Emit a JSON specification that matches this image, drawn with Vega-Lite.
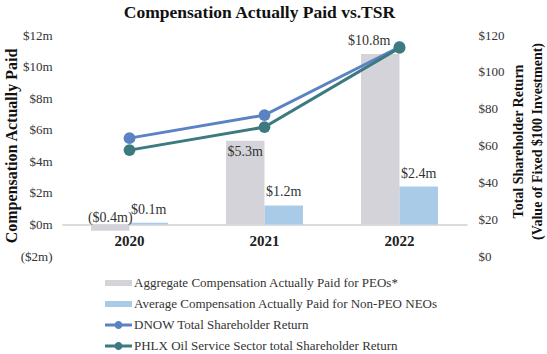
{
  "$schema": "https://vega.github.io/schema/vega-lite/v6.json",
  "width": 405,
  "height": 221,
  "autosize": {"type": "none"},
  "padding": {"left": 62, "top": 35, "right": 80, "bottom": 98},
  "background": "white",
  "config": {
    "view": {"stroke": null},
    "font": "Liberation Serif",
    "axis": {"labelFont": "Liberation Serif", "labelFontSize": 13, "labelColor": "#333333", "labelOverlap": false, "labelBound": false, "grid": false, "ticks": false, "tickSize": 0, "titleFont": "Liberation Serif", "titleFontWeight": "bold", "titleColor": "#111111"}
  },
  "title": {"text": "Compensation Actually Paid vs.TSR", "font": "Liberation Serif", "fontSize": 17.5, "fontWeight": "bold", "color": "#111111", "anchor": "middle", "offset": 8, "dx": -5},
  "datasets": {
    "cap": [
      {"year": "2020", "series": "Aggregate Compensation Actually Paid for PEOs*", "value": -0.4, "label": "($0.4m)"},
      {"year": "2020", "series": "Average Compensation Actually Paid for Non-PEO NEOs", "value": 0.1, "label": "$0.1m"},
      {"year": "2021", "series": "Aggregate Compensation Actually Paid for PEOs*", "value": 5.3, "label": "$5.3m"},
      {"year": "2021", "series": "Average Compensation Actually Paid for Non-PEO NEOs", "value": 1.2, "label": "$1.2m"},
      {"year": "2022", "series": "Aggregate Compensation Actually Paid for PEOs*", "value": 10.8, "label": "$10.8m"},
      {"year": "2022", "series": "Average Compensation Actually Paid for Non-PEO NEOs", "value": 2.4, "label": "$2.4m"}
    ],
    "tsr": [
      {"year": "2020", "series": "DNOW Total Shareholder Return", "tsr": 64},
      {"year": "2021", "series": "DNOW Total Shareholder Return", "tsr": 76.5},
      {"year": "2022", "series": "DNOW Total Shareholder Return", "tsr": 113.5},
      {"year": "2020", "series": "PHLX Oil Service Sector total Shareholder Return", "tsr": 57.5},
      {"year": "2021", "series": "PHLX Oil Service Sector total Shareholder Return", "tsr": 70},
      {"year": "2022", "series": "PHLX Oil Service Sector total Shareholder Return", "tsr": 113}
    ]
  },
  "layer": [
    {
      "data": {"name": "cap"},
      "encoding": {
        "x": {
          "field": "year", "type": "nominal",
          "scale": {"paddingInner": 0.43, "paddingOuter": 0.215},
          "axis": {"title": null, "orient": "bottom", "offset": -31.57, "domainColor": "#dcdcdc", "domainWidth": 2, "labelPadding": 9, "labelFont": "Liberation Serif", "labelFontSize": 15, "labelFontWeight": "bold", "labelColor": "#222222", "labelAngle": 0}
        },
        "xOffset": {
          "field": "series", "type": "nominal",
          "sort": ["Aggregate Compensation Actually Paid for PEOs*", "Average Compensation Actually Paid for Non-PEO NEOs"],
          "scale": {"paddingInner": 0, "paddingOuter": 0}
        },
        "y": {
          "field": "value", "type": "quantitative",
          "scale": {"domain": [-2, 12], "nice": false, "zero": false},
          "axis": {"title": "Compensation Actually Paid", "values": [-2, 0, 2, 4, 6, 8, 10, 12], "labelExpr": "datum.value < 0 ? '($' + abs(datum.value) + 'm)' : '$' + datum.value + 'm'", "labelOverlap": false, "labelFont": "Liberation Serif", "labelFontSize": 13, "domain": false, "labelPadding": 10, "titleFont": "Liberation Serif", "titleFontSize": 16, "titlePadding": 1}
        }
      },
      "layer": [
        {
          "mark": {"type": "bar"},
          "encoding": {
            "color": {
              "field": "series", "type": "nominal",
              "scale": {
                "domain": ["Aggregate Compensation Actually Paid for PEOs*", "Average Compensation Actually Paid for Non-PEO NEOs", "DNOW Total Shareholder Return", "PHLX Oil Service Sector total Shareholder Return"],
                "range": ["#d5d3da", "#a9cbe8", "#5b83c3", "#3d7a80"]
              },
              "legend": {
                "orient": "none", "legendX": 46.5, "legendY": 238, "direction": "vertical", "title": null,
                "symbolSize": 400, "labelFont": "Liberation Serif", "labelFontSize": 13, "labelColor": "#333333",
                "labelOffset": 5.5, "rowPadding": 4, "padding": 0, "labelLimit": 400,
                "encode": {
                  "symbols": {
                    "update": {
                      "shape": [
                        {"test": "datum.value === 'DNOW Total Shareholder Return' || datum.value === 'PHLX Oil Service Sector total Shareholder Return'", "value": "M-1.35,-0.15H1.35V0.15H-1.35Z M0.4,0A0.4,0.4 0 1 1 -0.4,0A0.4,0.4 0 1 1 0.4,0Z"},
                        {"value": "M-1.35,-0.3H1.35V0.3H-1.35Z"}
                      ],
                      "fill": {"scale": "color", "field": "value"},
                      "stroke": {"value": "transparent"},
                      "strokeWidth": {"value": 0},
                      "opacity": {"value": 1}
                    }
                  }
                }
              }
            }
          }
        },
        {
          "transform": [{"filter": "!(datum.series === 'Aggregate Compensation Actually Paid for PEOs*' && (datum.year === '2021' || datum.year === '2022'))"}],
          "mark": {"type": "text", "baseline": "alphabetic", "dy": -9, "fontSize": 14, "font": "Liberation Serif", "color": "#333333"},
          "encoding": {"text": {"field": "label"}}
        },
        {
          "transform": [{"filter": "datum.series === 'Aggregate Compensation Actually Paid for PEOs*' && datum.year === '2022'"}],
          "mark": {"type": "text", "baseline": "alphabetic", "dy": -9, "dx": -11, "fontSize": 14, "font": "Liberation Serif", "color": "#333333"},
          "encoding": {"text": {"field": "label"}}
        },
        {
          "transform": [{"filter": "datum.series === 'Aggregate Compensation Actually Paid for PEOs*' && datum.year === '2021'"}],
          "mark": {"type": "text", "baseline": "top", "dy": 4, "fontSize": 14, "font": "Liberation Serif", "color": "#333333"},
          "encoding": {"text": {"field": "label"}}
        }
      ]
    },
    {
      "data": {"name": "tsr"},
      "encoding": {
        "x": {"field": "year", "type": "nominal"},
        "y": {
          "field": "tsr", "type": "quantitative",
          "scale": {"domain": [0, 120], "nice": false},
          "axis": {"orient": "right", "title": ["Total Shareholder Return", "(Value of Fixed $100 Investment)"], "values": [0, 20, 40, 60, 80, 100, 120], "labelExpr": "'$' + datum.value", "labelOverlap": false, "labelFont": "Liberation Serif", "labelFontSize": 13, "domain": false, "labelPadding": 11, "titleFont": "Liberation Serif", "titleFontSize": 14, "titleAngle": 270, "titleX": 51, "titleY": 106, "titleBaseline": "middle", "titleAlign": "center", "titleLineHeight": 19}
        },
        "color": {
          "field": "series", "type": "nominal",
          "scale": {
            "domain": ["Aggregate Compensation Actually Paid for PEOs*", "Average Compensation Actually Paid for Non-PEO NEOs", "DNOW Total Shareholder Return", "PHLX Oil Service Sector total Shareholder Return"],
            "range": ["#d5d3da", "#a9cbe8", "#5b83c3", "#3d7a80"]
          },
          "legend": null
        }
      },
      "layer": [
        {"mark": {"type": "line", "strokeWidth": 3}},
        {"mark": {"type": "point", "filled": true, "opacity": 1, "size": 140}}
      ]
    }
  ],
  "resolve": {"scale": {"y": "independent"}}
}
